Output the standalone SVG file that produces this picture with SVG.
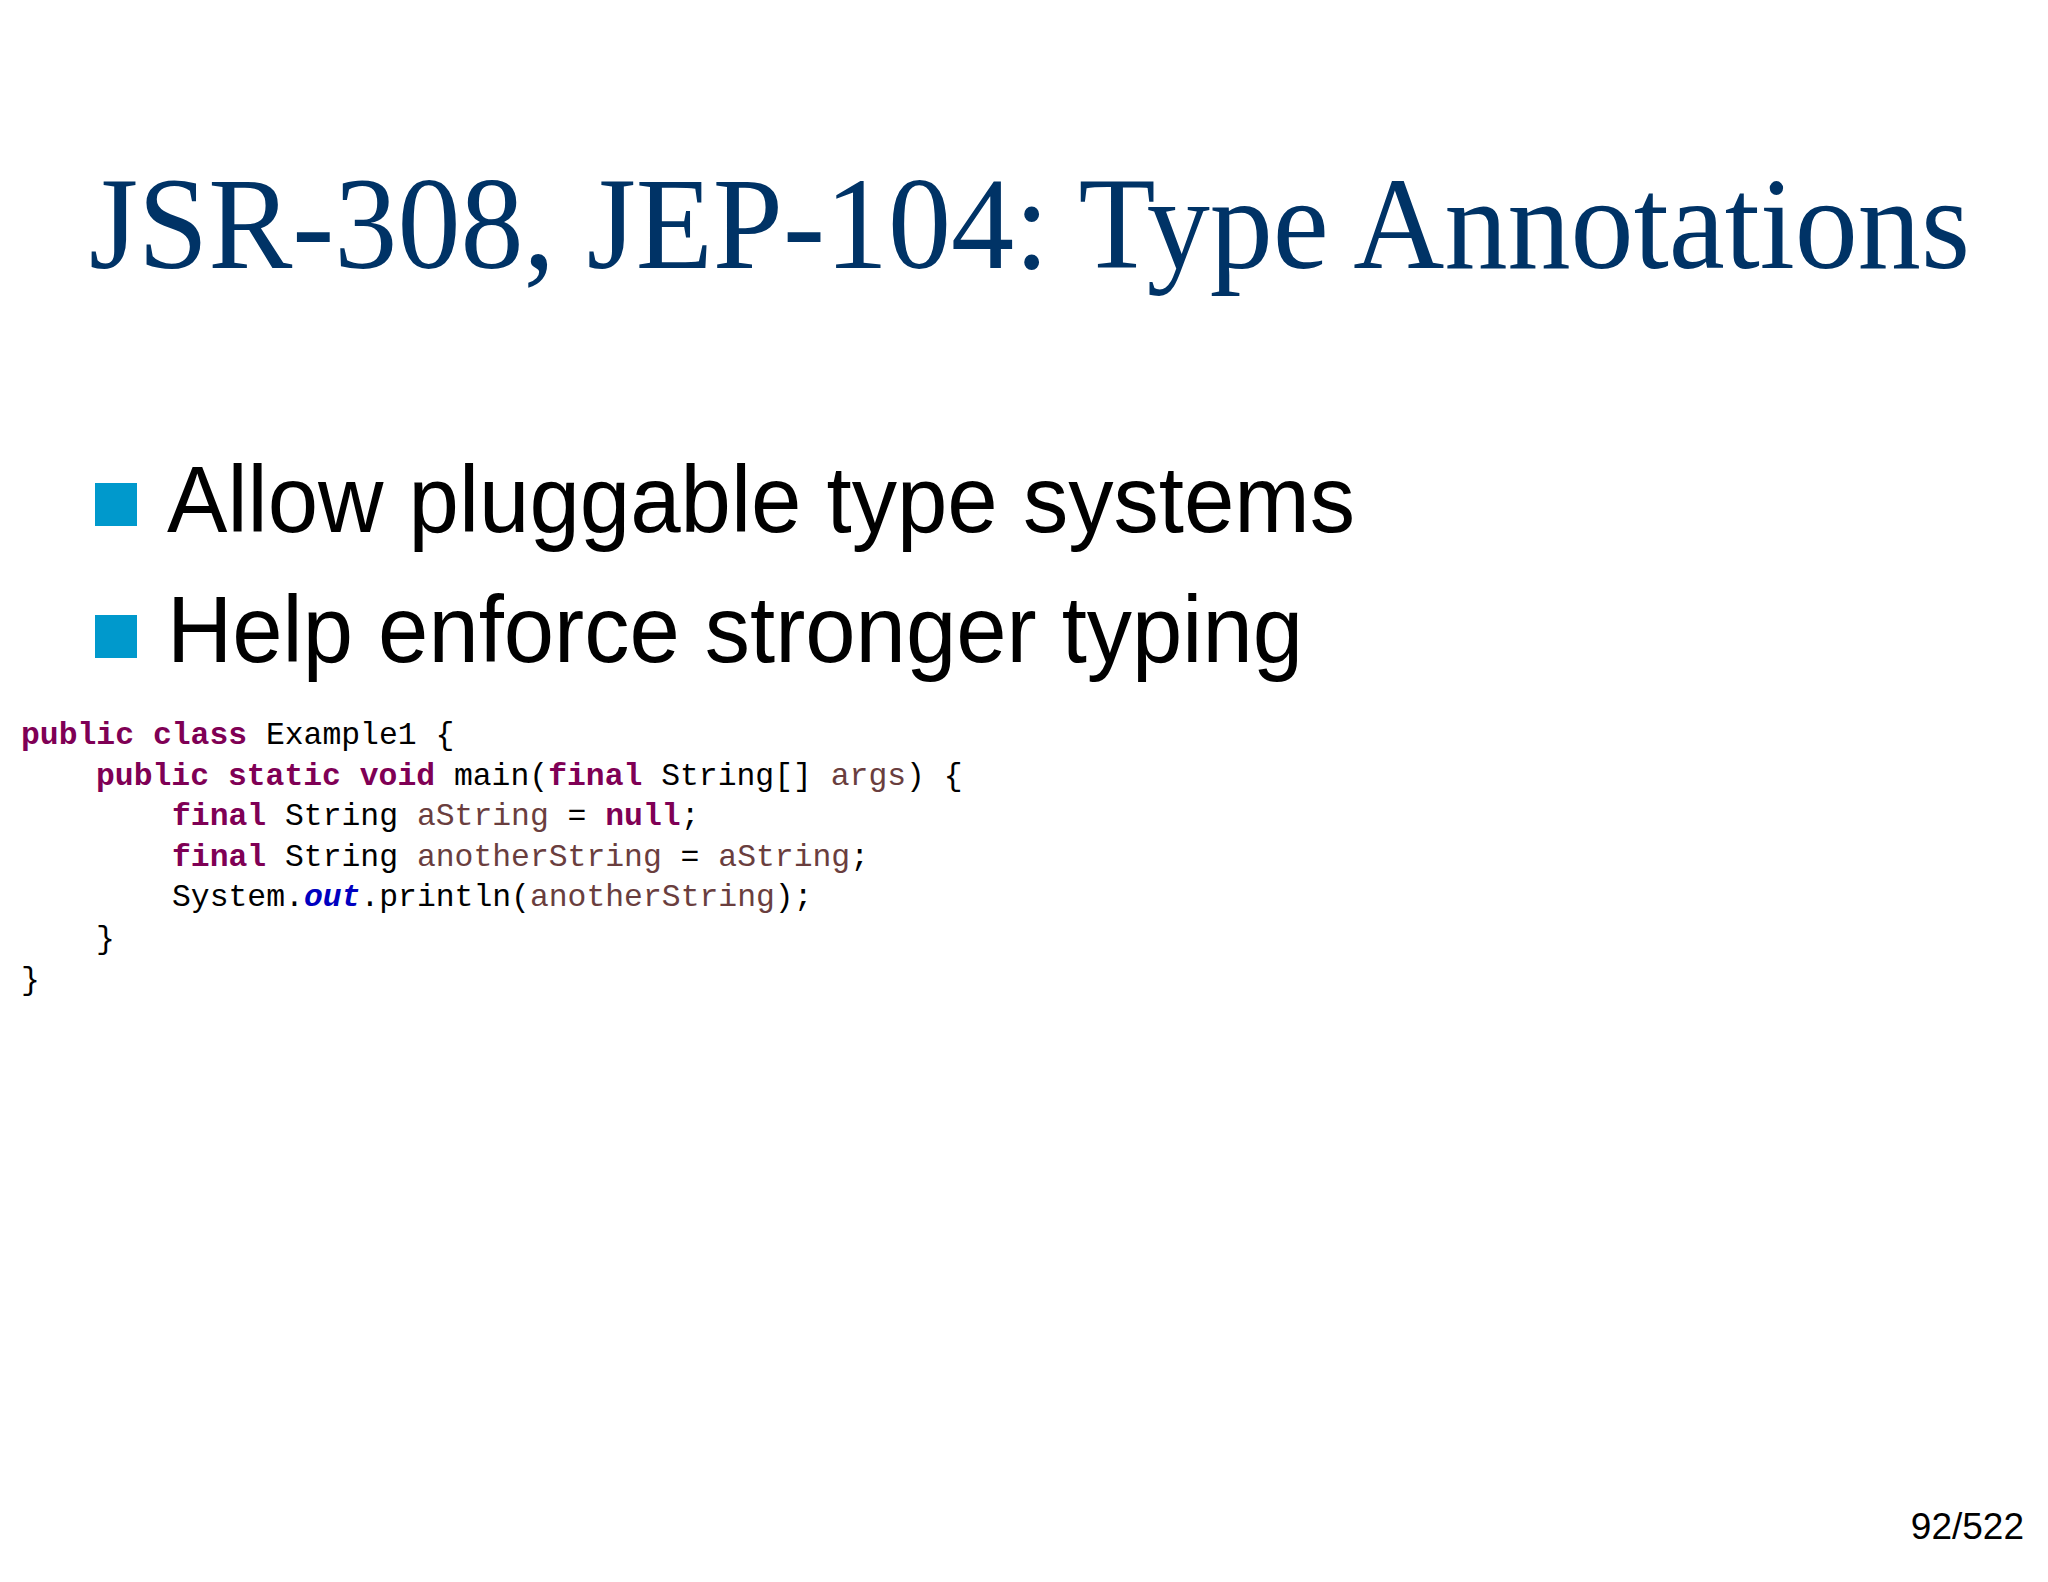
<svg xmlns="http://www.w3.org/2000/svg" width="2048" height="1582" viewBox="0 0 2048 1582">
<style>
.t{font-family:"Liberation Serif",serif;fill:#003366}
.b{font-family:"Liberation Sans",Arial,sans-serif;fill:#000}
.c{font-family:"Liberation Mono",monospace;font-size:31.4px;fill:#000}
.k{fill:#7f0055;font-weight:bold}
.v{fill:#6a3e3e}
.o{fill:#0000c0;font-weight:bold;font-style:italic}
.sq{fill:#0099cc}
</style>
<rect width="2048" height="1582" fill="#fff"/>
<g id="title"><text class="t" x="89" y="268" font-size="131" textLength="1881" lengthAdjust="spacingAndGlyphs">JSR-308, JEP-104: Type Annotations</text></g>
<g id="bullet1"><rect class="sq" x="95" y="483" width="42" height="43"/><text class="b" x="167" y="532" font-size="94" textLength="1188" lengthAdjust="spacingAndGlyphs">Allow pluggable type systems</text></g>
<g id="bullet2"><rect class="sq" x="95" y="615" width="42" height="43"/><text class="b" x="167" y="662" font-size="94" textLength="1136" lengthAdjust="spacingAndGlyphs">Help enforce stronger typing</text></g>
<g id="code">
<text class="c" x="21" y="744"><tspan class="k">public</tspan> <tspan class="k">class</tspan> Example1 {</text>
<text class="c" x="96" y="785"><tspan class="k">public</tspan> <tspan class="k">static</tspan> <tspan class="k">void</tspan> main(<tspan class="k">final</tspan> String[] <tspan class="v">args</tspan>) {</text>
<text class="c" x="172" y="825"><tspan class="k">final</tspan> String <tspan class="v">aString</tspan> = <tspan class="k">null</tspan>;</text>
<text class="c" x="172" y="866"><tspan class="k">final</tspan> String <tspan class="v">anotherString</tspan> = <tspan class="v">aString</tspan>;</text>
<text class="c" x="172" y="906">System.<tspan class="o">out</tspan>.println(<tspan class="v">anotherString</tspan>);</text>
<text class="c" x="96" y="948">}</text>
<text class="c" x="21" y="989">}</text>
</g>
<g id="page"><text class="b" x="2024" y="1539" font-size="37" text-anchor="end">92/522</text></g>
</svg>
